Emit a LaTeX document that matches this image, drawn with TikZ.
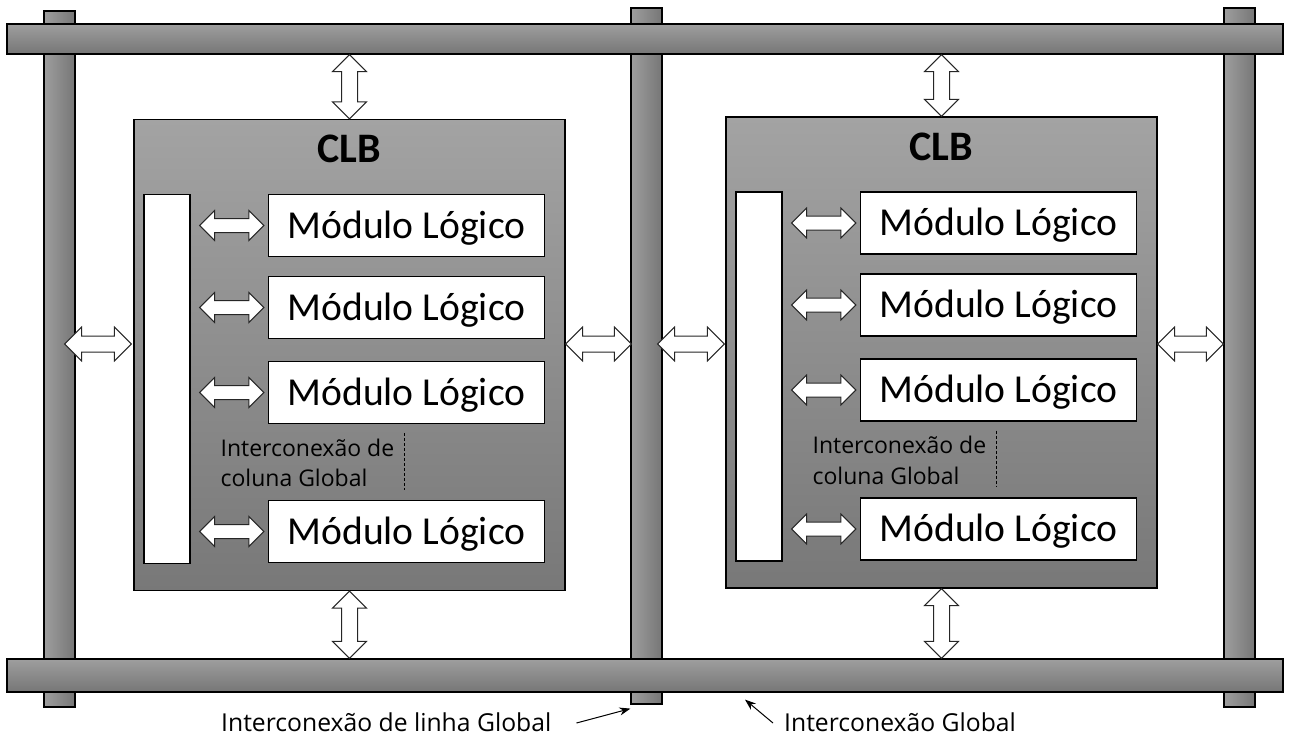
\documentclass[tikz,border=0pt]{standalone}
\usepackage{fontspec}
\setmainfont{Carlito}
\newfontfamily\labelfamily{Open Sans}
\usetikzlibrary{calc,shapes.arrows,arrows.meta}

\definecolor{barhi}{RGB}{158,158,158}
\definecolor{barlo}{RGB}{118,118,118}
\definecolor{clbhi}{RGB}{163,163,163}
\definecolor{clblo}{RGB}{120,120,120}

\newcommand{\modfont}{\fontsize{39.6}{46}\selectfont}
\newcommand{\clbfont}{\fontsize{42}{50}\selectfont\bfseries}
\newcommand{\notefont}{\labelfamily\fontsize{23}{30.5}\selectfont}
\newcommand{\captfont}{\labelfamily\fontsize{24.7}{30}\selectfont}

\tikzset{
  vbar/.style={draw, line width=1.2pt, left color=barhi, right color=barlo, minimum width=31pt, inner sep=0pt},
  hbar/.style={draw, line width=1.2pt, top color=barhi, bottom color=barlo, minimum width=1276pt, inner sep=0pt},
  clbbox/.style={draw, line width=1.2pt, top color=clbhi, bottom color=clblo, minimum width=431pt, minimum height=471pt, inner sep=0pt},
  colbox/.style={draw, line width=1.2pt, fill=white, minimum width=46pt, minimum height=369pt, inner sep=0pt},
  modbox/.style={draw, line width=1.2pt, fill=white, minimum width=276pt, minimum height=62pt, inner sep=0pt,
    font=\modfont, text height=25pt, text depth=0pt},
  dblarr/.style={double arrow, draw=black!85, fill=white, line width=1pt, inner xsep=0pt, double arrow tip angle=90},
  bigarr/.style={dblarr, inner ysep=7.5pt, double arrow head extend=9pt},
  smallarr/.style={dblarr, inner ysep=6.5pt, double arrow head extend=8pt},
  note/.style={font=\notefont, inner sep=0pt, align=left},
  capt/.style={font=\captfont, inner sep=0pt},
  dashline/.style={dash pattern=on 3pt off 2pt, line width=0.8pt},
  pointer/.style={-{Stealth[length=11pt,width=8pt]}, line width=1pt}
}

% double arrow laid between two points
\newcommand{\dblink}[3]{%
  \path let \p1=(#2), \p2=(#3), \n1={veclen(\x2-\x1,\y2-\y1)}, \n2={atan2(\y2-\y1,\x2-\x1)} in
    node[#1, minimum height=\n1, rotate=\n2] at ($(\p1)!.5!(\p2)$) {};}

\begin{document}
\begin{tikzpicture}[x=1pt,y=-1pt]
  \useasboundingbox (0,0) rectangle (1292,740);

  % global interconnect
  \node[vbar, minimum height=696pt] (vbarA) at (59.5,359) {};
  \node[vbar, minimum height=696pt] (vbarB) at (646.5,356) {};
  \node[vbar, minimum height=699pt] (vbarC) at (1239.5,357.5) {};
  \node[hbar, minimum height=30pt] (hbarT) at (645,39) {};
  \node[hbar, minimum height=33pt] (hbarB) at (645,675.5) {};

  \foreach \s/\cx/\cy in {L/349.5/355, R/941.5/352.5} {
    \node[clbbox] (clb\s) at (\cx,\cy) {};
    \node[font=\clbfont, inner sep=0pt] (clbname\s) at ($(clb\s.north)+(0,30)$) {CLB};
    \node[colbox, anchor=north west] (col\s) at ($(clb\s.north west)+(10,75)$) {};
    \foreach \i/\dy in {1/75,2/157,3/242,4/381} {
      \node[modbox, anchor=north west] (mod\s\i) at ($(clb\s.north west)+(134.5,\dy)$) {Módulo Lógico};
      \dblink{smallarr}{$(col\s.east |- mod\s\i.west)+(9,0)$}{$(mod\s\i.west)+(-4,0)$}
    }
    \draw[dashline] ($(mod\s3.south)+(-2,9)$) -- ($(mod\s4.north)+(-2,-10)$);
    \node[note, anchor=west] (note\s) at ($(clb\s.west)+(87,108)$) {Interconexão de\\coluna Global};
    \dblink{bigarr}{clb\s.north |- hbarT.south}{clb\s.north}
    \dblink{bigarr}{clb\s.south}{clb\s.south |- hbarB.north}
  }

  \coordinate (rowy) at (0,344);
  \dblink{bigarr}{$(vbarA.east |- rowy)+(-11,0)$}{$(clbL.west |- rowy)+(-2,0)$}
  \dblink{bigarr}{clbL.east |- rowy}{$(vbarB.west |- rowy)+(1,0)$}
  \dblink{bigarr}{$(vbarB.east |- rowy)+(-5,0)$}{$(clbR.west |- rowy)+(-1,0)$}
  \dblink{bigarr}{clbR.east |- rowy}{vbarC.west |- rowy}

  \node[capt, anchor=west] (lblrow) at (221,722) {Interconexão de linha Global};
  \node[capt, anchor=west] (lblglob) at (784,722) {Interconexão Global};
  \coordinate (rowtip) at ($(vbarB.south west)+(0,4)$);
  \coordinate (globtip) at ($(hbarB.south)+(100,7)$);
  \draw[pointer] ([xshift=25pt,yshift=-1pt]lblrow.east) -- (rowtip);
  \draw[pointer] ([xshift=-11pt,yshift=-1pt]lblglob.west) -- (globtip);
\end{tikzpicture}
\end{document}
